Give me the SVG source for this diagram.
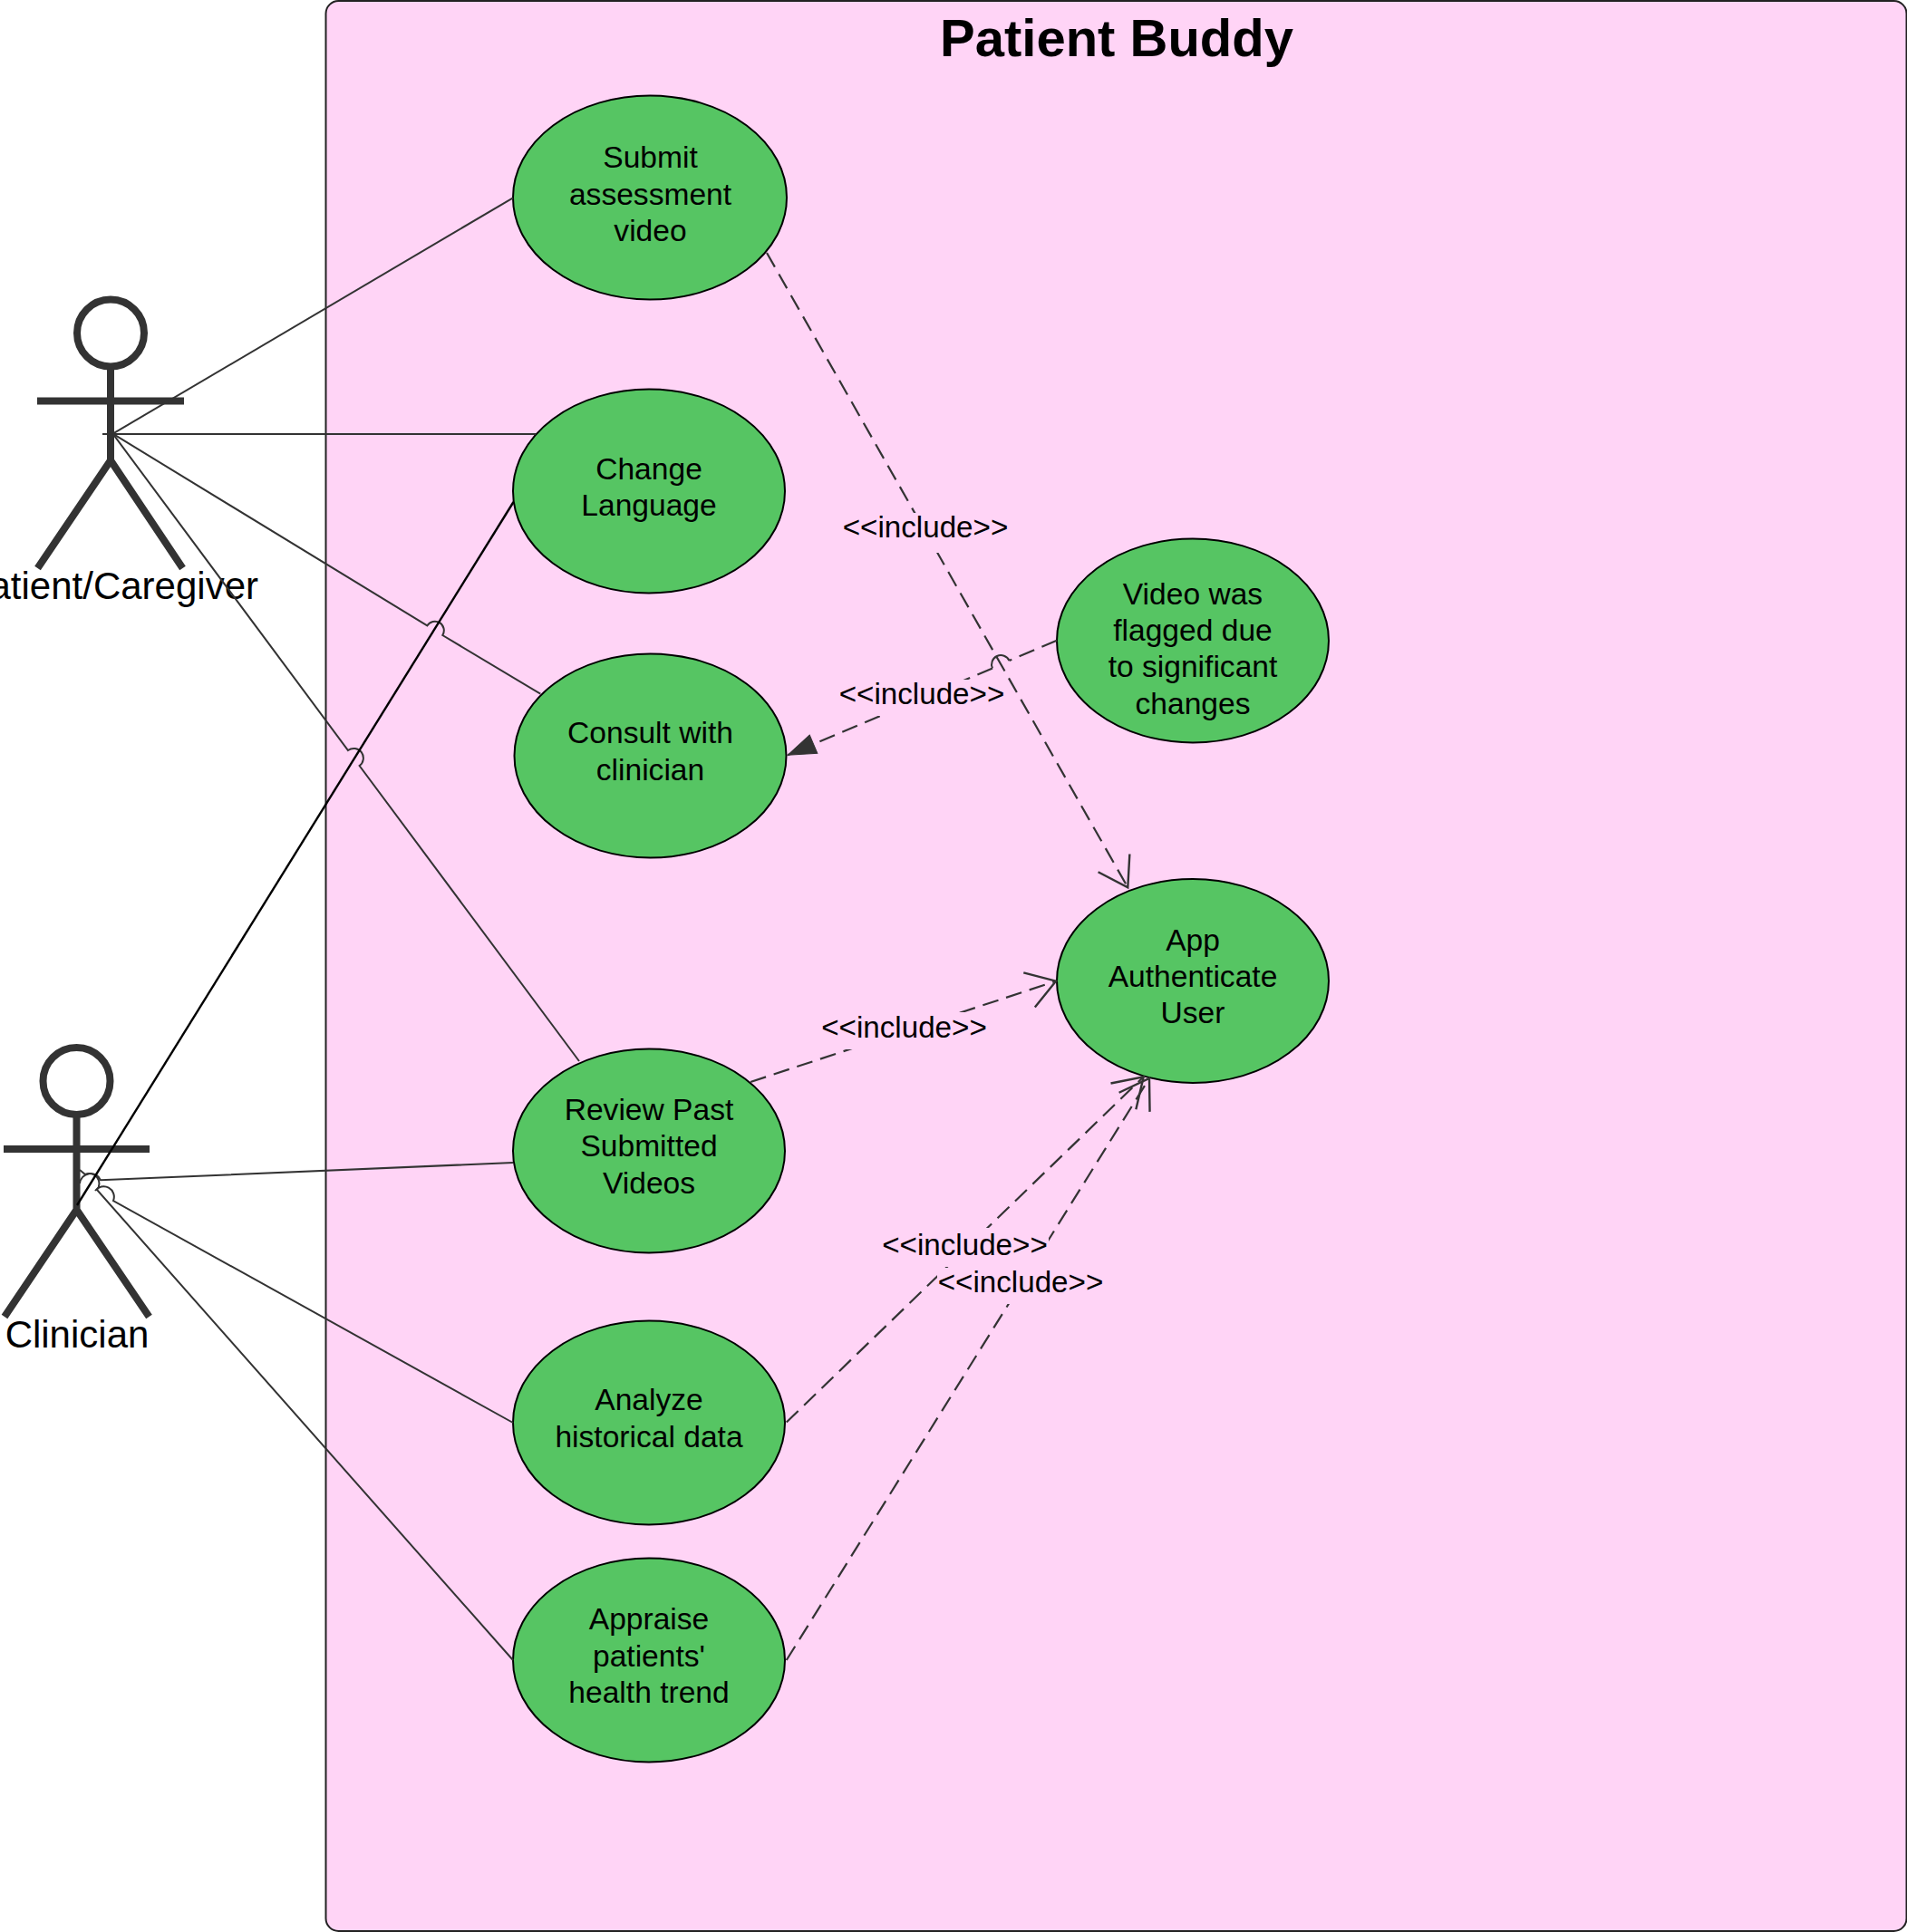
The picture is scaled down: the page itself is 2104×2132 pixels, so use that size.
<svg xmlns="http://www.w3.org/2000/svg" width="2104" height="2132" viewBox="0 0 2104 2132">
<style>
text{font-family:"Liberation Sans",Arial,sans-serif;fill:#000}
.uc{fill:#56c563;stroke:#000;stroke-width:2}
.t{font-size:33.6px;text-anchor:middle}
.i{font-size:33.2px;text-anchor:middle}
.actor{fill:none;stroke:#333;stroke-width:8}
.an{font-size:42px}
.c{fill:none;stroke:#333;stroke-width:2}
.d{stroke-dasharray:18 9;stroke-width:2.2}
.o{marker-end:url(#open)}
.lb{fill:#ffd4f6}
</style>
<defs>
<marker id="open" markerUnits="userSpaceOnUse" markerWidth="70" markerHeight="60" viewBox="-40 -30 70 60" refX="0" refY="0" orient="auto"><path d="M-31,-20L0,0L-31,20" fill="none" stroke="#333" stroke-width="2.4"/></marker>
<marker id="solid" markerUnits="userSpaceOnUse" markerWidth="70" markerHeight="60" viewBox="-40 -30 70 60" refX="0" refY="0" orient="auto"><path d="M0,0L-31,-11L-31,11Z" fill="#333" stroke="#333" stroke-width="1"/></marker>
</defs>
<rect width="2104" height="2132" fill="#fff"/>
<g id="system">
<rect x="359.500" y="1" width="1744" height="2130" rx="14" fill="#ffd4f6" stroke="#222" stroke-width="2"/>
<text x="1232" y="62" font-size="58" font-weight="bold" text-anchor="middle">Patient Buddy</text>
</g>
<g id="actor-patient">
<circle class="actor" cx="122" cy="367.500" r="37"/>
<path class="actor" d="M122,405V510M41,442.500H203M41.500,627L122,508L201.500,627"/>
<text class="an" x="285" y="661" text-anchor="end">Patient/Caregiver</text>
</g>
<g id="actor-clinician">
<circle class="actor" cx="84.500" cy="1193" r="37"/>
<path class="actor" d="M84.500,1231V1337M4,1268H165M5,1453L84.500,1335L164.500,1453"/>
<text class="an" x="85" y="1487" text-anchor="middle">Clinician</text>
</g>
<g id="uc-submit"><ellipse class="uc" cx="717" cy="218" rx="151" ry="112.500"/><text class="t" x="717.500" y="185">Submit</text><text class="t" x="717.500" y="225.500">assessment</text><text class="t" x="717.500" y="265.500">video</text></g>
<g id="uc-language"><ellipse class="uc" cx="716" cy="542" rx="150" ry="112.500"/><text class="t" x="716" y="529">Change</text><text class="t" x="716" y="569">Language</text></g>
<g id="uc-consult"><ellipse class="uc" cx="717.500" cy="834" rx="150" ry="112.500"/><text class="t" x="717.500" y="820">Consult with</text><text class="t" x="717.500" y="861">clinician</text></g>
<g id="uc-review"><ellipse class="uc" cx="716" cy="1270" rx="150" ry="112.500"/><text class="t" x="716" y="1236">Review Past</text><text class="t" x="716" y="1276">Submitted</text><text class="t" x="716" y="1317">Videos</text></g>
<g id="uc-analyze"><ellipse class="uc" cx="716" cy="1570" rx="150" ry="112.500"/><text class="t" x="716" y="1556">Analyze</text><text class="t" x="716" y="1597">historical data</text></g>
<g id="uc-appraise"><ellipse class="uc" cx="716" cy="1832" rx="150" ry="112.500"/><text class="t" x="716" y="1798">Appraise</text><text class="t" x="716" y="1838.500">patients'</text><text class="t" x="716" y="1879">health trend</text></g>
<g id="uc-flagged"><ellipse class="uc" cx="1316" cy="707" rx="150" ry="112.500"/><text class="t" x="1316" y="667">Video was</text><text class="t" x="1316" y="707">flagged due</text><text class="t" x="1316" y="747">to significant</text><text class="t" x="1316" y="787.500">changes</text></g>
<g id="uc-auth"><ellipse class="uc" cx="1316" cy="1082.500" rx="150" ry="112.500"/><text class="t" x="1316" y="1049">App</text><text class="t" x="1316" y="1089">Authenticate</text><text class="t" x="1316" y="1129">User</text></g>
<g id="connectors">
<path class="c" d="M124.500,478.700L566,218.300"/>
<path class="c" d="M113,479H591"/>
<path class="c" d="M124.500,478.700L471.300,690.400A10 10 0 0 1 488.300,701L596.300,765.700"/>
<path class="c" d="M124.500,478.700L384,828A10 10 0 0 1 396.600,845L639,1171"/>
<path class="c" d="M566,1283L111,1302.300A12 12 0 0 0 88,1306"/>
<path class="c" d="M566,1570L125,1325A11.500 11.500 0 0 0 105,1314"/>
<path class="c" d="M88,1291L94,1296A11 11 0 0 1 107,1313L566,1832"/>
<path class="c d o" d="M846,279L1244.300,979.300"/>
<path class="c d" d="M1166,706.700L1113.500,729"/>
<path class="c" d="M1113.500,729A10 10 0 0 0 1095,737.500"/>
<path class="c d" d="M1095,737.500L869,833.300" marker-end="url(#solid)"/>
<path class="c d o" d="M828,1194L1165,1082.700"/>
<path class="c d o" d="M867.700,1569.500L1261.700,1188.300"/>
<path class="c d o" d="M867.700,1832L1268,1190"/>
<path d="M85,1330L566.500,554" fill="none" stroke="#000" stroke-width="2.400"/>
<rect class="lb" x="929" y="566" width="184" height="44"/>
<rect class="lb" x="925" y="750" width="184" height="40"/>
<rect class="lb" x="906" y="1117" width="184" height="41"/>
<rect class="lb" x="973" y="1355" width="184" height="43"/>
<rect class="lb" x="1034" y="1399" width="184" height="40"/>
<text class="i" x="1021" y="593">&lt;&lt;include&gt;&gt;</text>
<text class="i" x="1017" y="777">&lt;&lt;include&gt;&gt;</text>
<text class="i" x="997.500" y="1145">&lt;&lt;include&gt;&gt;</text>
<text class="i" x="1064.500" y="1385">&lt;&lt;include&gt;&gt;</text>
<text class="i" x="1126" y="1426">&lt;&lt;include&gt;&gt;</text>
</g>
</svg>
